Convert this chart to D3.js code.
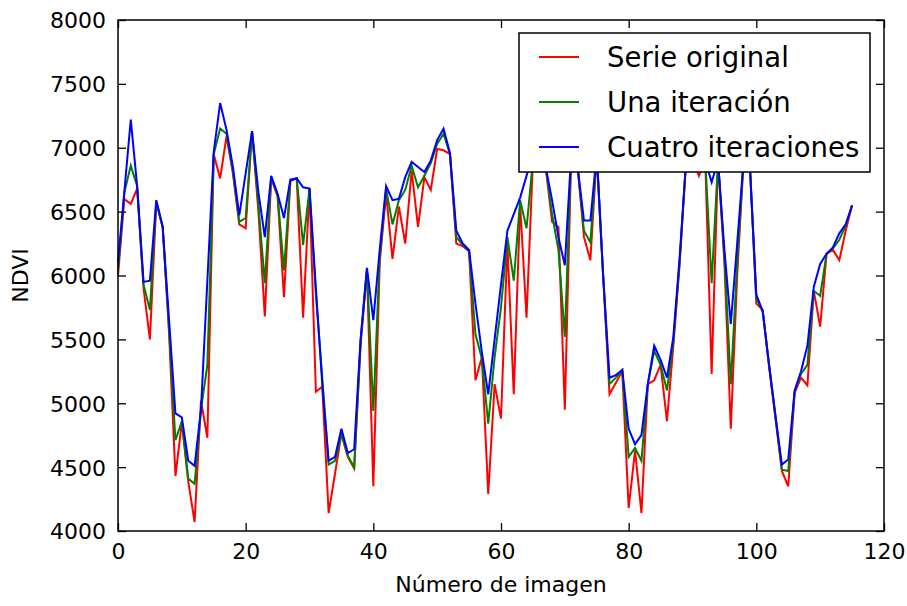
<!DOCTYPE html>
<html lang="es">
<head>
<meta charset="UTF-8">
<title>NDVI</title>
<script src="https://cdn.jsdelivr.net/npm/d3@7/dist/d3.min.js"></script>
<style>
    html, body { margin: 0; padding: 0; background: #fff; overflow: hidden; }
    svg { display: block; }
    text { font-family: "DejaVu Sans", sans-serif; fill: #000; }
</style>
</head>
<body>
<svg id="mainsvg" width="907" height="606"></svg>
<script>
    // Data (index 0..115)
    const serieOriginal = [
        6000, 6600, 6560, 6680, 5900, 5500, 6570, 6380, 5550, 4430,
        4850, 4390, 4070, 5020, 4730, 6950, 6760, 7090, 6800, 6400,
        6370, 7130, 6500, 5680, 6760, 6620, 5830, 6740, 6760, 5670,
        6680, 5090, 5130, 4140, 4450, 4760, 4580, 4490, 5450, 6040,
        4350, 6100, 6640, 6130, 6540, 6250, 6820, 6380, 6770, 6670,
        6990, 6980, 6950, 6250, 6230, 6190, 5180, 5360, 4290, 5150,
        4880, 6250, 5070, 6560, 5670, 6900, 7000, 6850, 6420, 6380,
        4950, 6950, 6850, 6300, 6120, 6950, 6000, 5070, 5160, 5250,
        4180, 4630, 4140, 5150, 5180, 5300, 4860, 5450, 6100, 6900,
        6900, 6780, 6900, 5230, 6900, 6100, 4800, 6000, 6900, 6850,
        5780, 5730, 5280, 4880, 4470, 4350, 5080, 5200, 5140, 5880,
        5600, 6170, 6200, 6120, 6350, 6550
    ];
    const unaIteracion = [
        6050, 6650, 6860, 6700, 5930, 5730, 6580, 6380, 5580, 4710,
        4860, 4410, 4370, 4950, 5300, 6950, 7150, 7110, 6820, 6420,
        6450, 7130, 6550, 5940, 6770, 6630, 6040, 6745, 6760, 6240,
        6680, 5850, 5200, 4520, 4550, 4760, 4590, 4500, 5480, 6050,
        4940, 6150, 6680, 6400, 6590, 6670, 6860, 6690, 6780, 6880,
        7030, 7110, 6950, 6300, 6240, 6190, 5540, 5350, 4840, 5360,
        5750, 6300, 5960, 6590, 6370, 6900, 7000, 6850, 6480, 6200,
        5520, 6950, 6850, 6350, 6260, 6950, 6000, 5150, 5200, 5260,
        4580, 4650, 4550, 5150, 5410, 5300, 5100, 5480, 6120, 6900,
        6900, 6850, 6900, 5940, 6900, 6150, 5150, 6100, 6900, 6850,
        5820, 5720, 5300, 4900, 4480, 4470, 5090, 5230, 5300, 5880,
        5840, 6170, 6210, 6280, 6390, 6550
    ];
    const cuatroIteraciones = [
        6100, 6660, 7220, 6700, 5950, 5960, 6590, 6380, 5650, 4920,
        4890, 4550, 4510, 4950, 5960, 6970, 7350, 7140, 6850, 6470,
        6800, 7130, 6650, 6300, 6780, 6640, 6450, 6750, 6760, 6690,
        6680, 5900, 5150, 4550, 4580, 4800, 4610, 4640, 5500, 6060,
        5650, 6200, 6700, 6590, 6600, 6770, 6890, 6850, 6810, 6900,
        7060, 7150, 6960, 6350, 6250, 6200, 5780, 5400, 5070, 5500,
        5930, 6350, 6480, 6610, 6780, 6950, 7050, 6850, 6590, 6300,
        6080, 6950, 6850, 6430, 6430, 6950, 6000, 5200, 5220, 5260,
        4800, 4680, 4750, 5150, 5450, 5340, 5200, 5520, 6150, 6900,
        6900, 6850, 6900, 6730, 6900, 6200, 5620, 6250, 6900, 6850,
        5850, 5720, 5300, 4900, 4520, 4560, 5100, 5250, 5450, 5910,
        6090, 6170, 6220, 6330, 6400, 6550
    ];
    const seriesNames = ['Serie original', 'Una iteración', 'Cuatro iteraciones'];
    const seriesColors = ['#ff0000', '#008000', '#0000ff'];
    const xTicks = [0, 20, 40, 60, 80, 100, 120];
    const yTicks = [4000, 4500, 5000, 5500, 6000, 6500, 7000, 7500, 8000];

    const mainsvg = d3.select('#mainsvg');
    const margin = {top: 20, right: 23, bottom: 75, left: 118};
    const innerWidth = +mainsvg.attr('width') - margin.left - margin.right;
    const innerHeight = +mainsvg.attr('height') - margin.top - margin.bottom;

    const g = mainsvg.append('g')
        .attr('transform', `translate(${margin.left}, ${margin.top})`);

    const xScale = d3.scaleLinear().domain([0, 120]).range([0, innerWidth]);
    const yScale = d3.scaleLinear().domain([4000, 8000]).range([innerHeight, 0]);

    // lines
    const line = d3.line()
        .x((d, i) => xScale(i))
        .y(d => yScale(d));
    [serieOriginal, unaIteracion, cuatroIteraciones].forEach((s, k) => {
        g.append('path')
            .datum(s)
            .attr('fill', 'none')
            .attr('stroke', seriesColors[k])
            .attr('stroke-width', 2)
            .attr('d', line);
    });

    // axes, ticks pointing inward (matplotlib classic)
    const styleAxis = sel => {
        sel.select('.domain').remove();
        sel.selectAll('.tick line').attr('stroke', '#000').attr('stroke-width', 1.3);
        sel.selectAll('text').style('font-size', '22px').attr('fill', '#000');
    };
    const noLabels = sel => sel.selectAll('.tick text').remove();

    g.append('g')
        .attr('transform', `translate(0, ${innerHeight})`)
        .call(d3.axisBottom(xScale).tickValues(xTicks).tickFormat(d3.format('d')).tickSize(-8).tickPadding(12))
        .call(styleAxis);
    g.append('g')
        .call(d3.axisTop(xScale).tickValues(xTicks).tickSize(-8))
        .call(styleAxis)
        .call(noLabels);
    g.append('g')
        .call(d3.axisLeft(yScale).tickValues(yTicks).tickFormat(d3.format('d')).tickSize(-8).tickPadding(12))
        .call(styleAxis)
        .selectAll('text').attr('dy', '0.36em');
    g.append('g')
        .attr('transform', `translate(${innerWidth}, 0)`)
        .call(d3.axisRight(yScale).tickValues(yTicks).tickSize(-8))
        .call(styleAxis)
        .call(noLabels);

    // frame
    g.append('rect')
        .attr('width', innerWidth)
        .attr('height', innerHeight)
        .attr('fill', 'none')
        .attr('stroke', '#000')
        .attr('stroke-width', 1.5);

    // axis labels
    g.append('text')
        .attr('x', innerWidth / 2)
        .attr('y', innerHeight + 61)
        .attr('text-anchor', 'middle')
        .style('font-size', '22px')
        .text('Número de imagen');
    g.append('text')
        .attr('transform', `translate(${28 - margin.left}, ${innerHeight / 2}) rotate(-90)`)
        .attr('text-anchor', 'middle')
        .style('font-size', '22px')
        .text('NDVI');

    // legend
    const legend = mainsvg.append('g').attr('transform', 'translate(519, 33)');
    legend.append('rect')
        .attr('width', 351)
        .attr('height', 139)
        .attr('fill', '#fff')
        .attr('stroke', '#000')
        .attr('stroke-width', 1.5);
    seriesNames.forEach((name, k) => {
        const row = legend.append('g').attr('transform', `translate(0, ${24 + k * 45})`);
        row.append('line')
            .attr('x1', 20).attr('x2', 60)
            .attr('stroke', seriesColors[k])
            .attr('stroke-width', 2);
        row.append('text')
            .attr('x', 88)
            .attr('dy', '0.36em')
            .style('font-size', '27.5px')
            .text(name);
    });
</script>
</body>
</html>
